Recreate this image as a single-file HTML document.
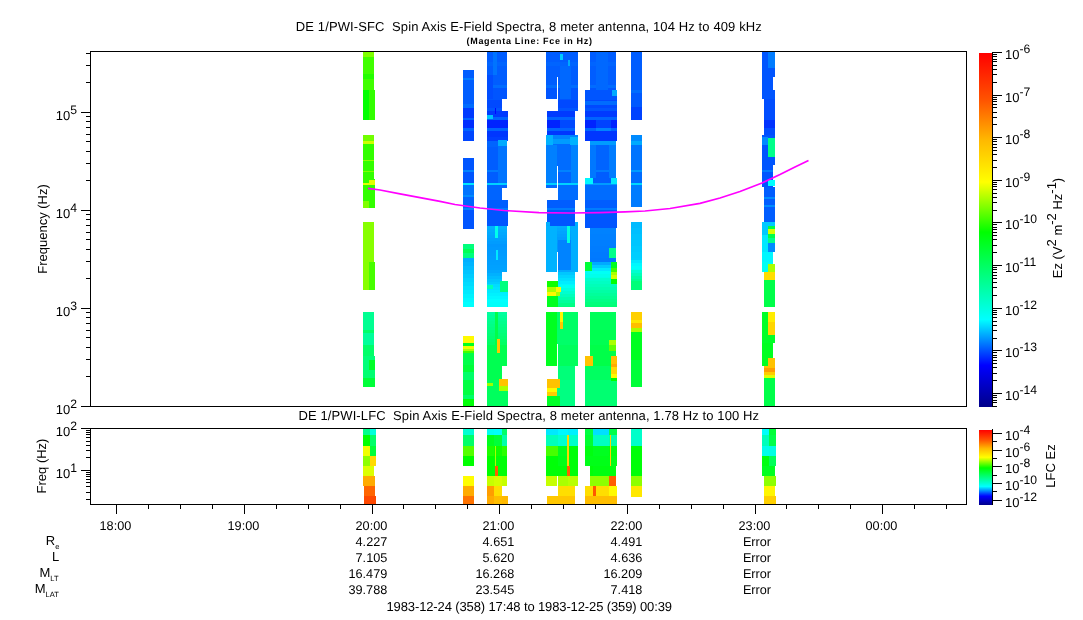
<!DOCTYPE html>
<html><head><meta charset="utf-8"><title>DE 1/PWI Spin Axis E-Field Spectra</title>
<style>
html,body{margin:0;padding:0;background:#fff;}
body{width:1083px;height:620px;overflow:hidden;font-family:"Liberation Sans",Arial,sans-serif;}
svg{display:block}
svg rect{shape-rendering:crispEdges}
svg text{text-rendering:geometricPrecision}
</style></head><body>
<svg width="1083" height="620" viewBox="0 0 1083 620">
<rect x="0" y="0" width="1083" height="620" fill="#fff"/>
<g id="sfc">
<rect x="363" y="52" width="11" height="5" fill="#80ff00"/>
<rect x="363" y="57" width="11" height="17" fill="#40ff00"/>
<rect x="363" y="74" width="11" height="5" fill="#23ff00"/>
<rect x="363" y="79" width="11" height="11" fill="#40ff00"/>
<rect x="363" y="90" width="12" height="30" fill="#32ff00"/>
<rect x="363" y="135" width="11" height="6" fill="#71ff00"/>
<rect x="363" y="141" width="11" height="3" fill="#cdff00"/>
<rect x="363" y="144" width="11" height="16" fill="#32ff00"/>
<rect x="363" y="160" width="11" height="1" fill="#8eff00"/>
<rect x="363" y="161" width="11" height="10" fill="#32ff00"/>
<rect x="363" y="171" width="11" height="1" fill="#80ff00"/>
<rect x="363" y="172" width="11" height="7" fill="#32ff00"/>
<rect x="363" y="179" width="12" height="4" fill="#32ff00"/>
<rect x="363" y="183" width="12" height="2" fill="#e3ff00"/>
<rect x="363" y="185" width="12" height="23" fill="#32ff00"/>
<rect x="363" y="222" width="11" height="40" fill="#87ff00"/>
<rect x="363" y="262" width="12" height="28" fill="#87ff00"/>
<rect x="363" y="312" width="11" height="18" fill="#00ff92"/>
<rect x="363" y="330" width="11" height="3" fill="#00ff69"/>
<rect x="363" y="333" width="11" height="12" fill="#00ff9a"/>
<rect x="363" y="345" width="11" height="11" fill="#00ff69"/>
<rect x="363" y="356" width="12" height="14" fill="#00ff79"/>
<rect x="363" y="370" width="12" height="8" fill="#00ff71"/>
<rect x="363" y="378" width="12" height="9" fill="#00ff39"/>
<rect x="363" y="90" width="6" height="30" fill="#00ff00"/>
<rect x="363" y="201" width="6" height="7" fill="#80ff00"/>
<rect x="369" y="262" width="6" height="28" fill="#47ff00"/>
<rect x="369" y="360" width="6" height="10" fill="#00ff28"/>
<rect x="369" y="180" width="6" height="5" fill="#e3ff00"/>
<rect x="463" y="70" width="11" height="8" fill="#005dff"/>
<rect x="463" y="78" width="11" height="2" fill="#007cff"/>
<rect x="463" y="80" width="11" height="24" fill="#005dff"/>
<rect x="463" y="104" width="11" height="4" fill="#006cff"/>
<rect x="463" y="108" width="11" height="10" fill="#003aff"/>
<rect x="463" y="118" width="11" height="2" fill="#0064ff"/>
<rect x="463" y="120" width="11" height="8" fill="#002eff"/>
<rect x="463" y="128" width="11" height="3" fill="#0064ff"/>
<rect x="463" y="131" width="11" height="10" fill="#0046ff"/>
<rect x="463" y="158" width="11" height="12" fill="#0055ff"/>
<rect x="463" y="170" width="11" height="2" fill="#0083ff"/>
<rect x="463" y="172" width="11" height="11" fill="#0055ff"/>
<rect x="463" y="183" width="11" height="2" fill="#00e8ff"/>
<rect x="463" y="185" width="11" height="10" fill="#0074ff"/>
<rect x="463" y="195" width="11" height="2" fill="#008bff"/>
<rect x="463" y="197" width="11" height="11" fill="#0064ff"/>
<rect x="463" y="208" width="11" height="2" fill="#0083ff"/>
<rect x="463" y="210" width="11" height="19" fill="#0055ff"/>
<rect x="463" y="244" width="11" height="5" fill="#00ff7d"/>
<rect x="463" y="249" width="11" height="4" fill="#00ff55"/>
<rect x="463" y="253" width="11" height="5" fill="#00ff7d"/>
<rect x="463" y="258" width="11" height="4" fill="#00aeff"/>
<rect x="463" y="262" width="11" height="4" fill="#00b5ff"/>
<rect x="463" y="266" width="11" height="4" fill="#00bdff"/>
<rect x="463" y="270" width="11" height="4" fill="#00c4ff"/>
<rect x="463" y="274" width="11" height="4" fill="#00ccff"/>
<rect x="463" y="278" width="11" height="4" fill="#00d4ff"/>
<rect x="463" y="282" width="11" height="4" fill="#00dbff"/>
<rect x="463" y="286" width="11" height="4" fill="#00e3ff"/>
<rect x="463" y="290" width="11" height="4" fill="#00eaff"/>
<rect x="463" y="294" width="11" height="4" fill="#00f2ff"/>
<rect x="463" y="298" width="11" height="4" fill="#00f9ff"/>
<rect x="463" y="302" width="11" height="4" fill="#00fffe"/>
<rect x="463" y="306" width="11" height="1" fill="#00fffb"/>
<rect x="463" y="336" width="11" height="7" fill="#fffa00"/>
<rect x="463" y="343" width="11" height="3" fill="#00ff20"/>
<rect x="463" y="346" width="11" height="3" fill="#f1ff00"/>
<rect x="463" y="349" width="11" height="2" fill="#aaff00"/>
<rect x="463" y="351" width="11" height="2" fill="#40ff00"/>
<rect x="463" y="353" width="11" height="12" fill="#00ff49"/>
<rect x="463" y="365" width="11" height="7" fill="#00ff39"/>
<rect x="463" y="372" width="11" height="8" fill="#00ff69"/>
<rect x="463" y="380" width="11" height="15" fill="#00ff41"/>
<rect x="463" y="395" width="11" height="4" fill="#00ff69"/>
<rect x="463" y="399" width="11" height="7" fill="#00ff08"/>
<rect x="487" y="52" width="20" height="10" fill="#005dff"/>
<rect x="487" y="62" width="20" height="4" fill="#0064ff"/>
<rect x="487" y="66" width="20" height="19" fill="#005dff"/>
<rect x="487" y="85" width="20" height="3" fill="#006cff"/>
<rect x="487" y="88" width="20" height="11" fill="#0055ff"/>
<rect x="487" y="99" width="15" height="1" fill="#0055ff"/>
<rect x="487" y="100" width="15" height="8" fill="#0049ff"/>
<rect x="487" y="108" width="15" height="3" fill="#0055ff"/>
<rect x="487" y="111" width="21" height="6" fill="#003aff"/>
<rect x="487" y="117" width="21" height="3" fill="#0064ff"/>
<rect x="487" y="120" width="21" height="8" fill="#0023ff"/>
<rect x="487" y="128" width="21" height="3" fill="#0064ff"/>
<rect x="487" y="131" width="21" height="6" fill="#0036ff"/>
<rect x="487" y="137" width="21" height="4" fill="#003eff"/>
<rect x="487" y="141" width="20" height="6" fill="#0064ff"/>
<rect x="487" y="147" width="20" height="23" fill="#005dff"/>
<rect x="487" y="170" width="20" height="2" fill="#007cff"/>
<rect x="487" y="172" width="20" height="11" fill="#005dff"/>
<rect x="487" y="183" width="20" height="2" fill="#00d1ff"/>
<rect x="487" y="185" width="20" height="3" fill="#0064ff"/>
<rect x="487" y="188" width="15" height="12" fill="#0064ff"/>
<rect x="487" y="200" width="21" height="8" fill="#005dff"/>
<rect x="487" y="208" width="21" height="2" fill="#007cff"/>
<rect x="487" y="210" width="21" height="16" fill="#0055ff"/>
<rect x="487" y="226" width="20" height="3" fill="#00b0ff"/>
<rect x="487" y="229" width="20" height="3" fill="#00acff"/>
<rect x="487" y="232" width="20" height="3" fill="#00a8ff"/>
<rect x="487" y="235" width="20" height="3" fill="#00a4ff"/>
<rect x="487" y="238" width="20" height="3" fill="#00a0ff"/>
<rect x="487" y="241" width="20" height="3" fill="#009cff"/>
<rect x="487" y="244" width="20" height="3" fill="#0097ff"/>
<rect x="487" y="247" width="20" height="3" fill="#0099ff"/>
<rect x="487" y="250" width="20" height="3" fill="#009aff"/>
<rect x="487" y="253" width="20" height="3" fill="#009bff"/>
<rect x="487" y="256" width="20" height="3" fill="#009dff"/>
<rect x="487" y="259" width="20" height="3" fill="#009eff"/>
<rect x="487" y="262" width="20" height="3" fill="#009fff"/>
<rect x="487" y="265" width="20" height="3" fill="#00a1ff"/>
<rect x="487" y="268" width="20" height="2" fill="#00a2ff"/>
<rect x="487" y="270" width="20" height="2" fill="#00a7ff"/>
<rect x="487" y="272" width="15" height="1" fill="#00a7ff"/>
<rect x="487" y="273" width="15" height="3" fill="#00b1ff"/>
<rect x="487" y="276" width="15" height="3" fill="#00bbff"/>
<rect x="487" y="279" width="15" height="2" fill="#00c5ff"/>
<rect x="487" y="281" width="21" height="1" fill="#00c5ff"/>
<rect x="487" y="282" width="21" height="2" fill="#00cdff"/>
<rect x="487" y="284" width="21" height="3" fill="#00dcff"/>
<rect x="487" y="287" width="21" height="3" fill="#00e3ff"/>
<rect x="487" y="290" width="21" height="3" fill="#00eaff"/>
<rect x="487" y="293" width="21" height="3" fill="#00f1ff"/>
<rect x="487" y="296" width="21" height="3" fill="#00f8ff"/>
<rect x="487" y="299" width="21" height="3" fill="#00ffff"/>
<rect x="487" y="302" width="21" height="3" fill="#00fffb"/>
<rect x="487" y="305" width="21" height="2" fill="#00fff8"/>
<rect x="487" y="312" width="20" height="3" fill="#00ff9f"/>
<rect x="487" y="315" width="20" height="3" fill="#00ff99"/>
<rect x="487" y="318" width="20" height="3" fill="#00ff93"/>
<rect x="487" y="321" width="20" height="3" fill="#00ff8d"/>
<rect x="487" y="324" width="20" height="3" fill="#00ff87"/>
<rect x="487" y="327" width="20" height="3" fill="#00ff82"/>
<rect x="487" y="330" width="20" height="3" fill="#00ff7c"/>
<rect x="487" y="333" width="20" height="3" fill="#00ff76"/>
<rect x="487" y="336" width="20" height="3" fill="#00ff70"/>
<rect x="487" y="339" width="20" height="3" fill="#00ff6a"/>
<rect x="487" y="342" width="20" height="3" fill="#00ff64"/>
<rect x="487" y="345" width="20" height="21" fill="#00ff51"/>
<rect x="487" y="366" width="15" height="13" fill="#00ff51"/>
<rect x="487" y="379" width="21" height="1" fill="#00ff51"/>
<rect x="487" y="380" width="21" height="26" fill="#00ff5d"/>
<rect x="498" y="146" width="9" height="37" fill="#0074ff"/>
<rect x="498" y="140" width="9" height="6" fill="#00aaff"/>
<rect x="493" y="52" width="4" height="23" fill="#0074ff"/>
<rect x="487" y="75" width="6" height="24" fill="#004dff"/>
<rect x="487" y="115" width="6" height="4" fill="#00c1ff"/>
<rect x="495" y="108" width="1" height="6" fill="#0008ff"/>
<rect x="495" y="226" width="3" height="12" fill="#00ffeb"/>
<rect x="496" y="250" width="2" height="10" fill="#00e8ff"/>
<rect x="487" y="285" width="6" height="4" fill="#00ffba"/>
<rect x="500" y="281" width="8" height="11" fill="#00ff7d"/>
<rect x="495" y="312" width="3" height="33" fill="#00ff49"/>
<rect x="497" y="339" width="3" height="14" fill="#ffc700"/>
<rect x="499" y="379" width="9" height="7" fill="#ffc200"/>
<rect x="499" y="386" width="9" height="5" fill="#aaff00"/>
<rect x="487" y="383" width="6" height="3" fill="#9cff00"/>
<rect x="546" y="52" width="32" height="10" fill="#005dff"/>
<rect x="546" y="62" width="32" height="4" fill="#0064ff"/>
<rect x="546" y="66" width="32" height="19" fill="#005dff"/>
<rect x="546" y="85" width="32" height="3" fill="#006cff"/>
<rect x="546" y="88" width="32" height="11" fill="#0055ff"/>
<rect x="558" y="99" width="20" height="1" fill="#0055ff"/>
<rect x="558" y="100" width="20" height="8" fill="#0049ff"/>
<rect x="558" y="108" width="20" height="3" fill="#0055ff"/>
<rect x="547" y="111" width="28" height="6" fill="#003aff"/>
<rect x="547" y="117" width="28" height="3" fill="#0064ff"/>
<rect x="547" y="120" width="28" height="8" fill="#0023ff"/>
<rect x="547" y="128" width="28" height="3" fill="#0064ff"/>
<rect x="547" y="131" width="28" height="4" fill="#0036ff"/>
<rect x="546" y="135" width="32" height="4" fill="#0083ff"/>
<rect x="546" y="139" width="32" height="5" fill="#009bff"/>
<rect x="546" y="144" width="32" height="26" fill="#006cff"/>
<rect x="546" y="170" width="32" height="2" fill="#0083ff"/>
<rect x="546" y="172" width="32" height="11" fill="#0064ff"/>
<rect x="546" y="183" width="32" height="2" fill="#00d1ff"/>
<rect x="546" y="185" width="32" height="3" fill="#006cff"/>
<rect x="558" y="188" width="20" height="12" fill="#006cff"/>
<rect x="547" y="200" width="28" height="8" fill="#005dff"/>
<rect x="547" y="208" width="28" height="2" fill="#007cff"/>
<rect x="547" y="210" width="28" height="12" fill="#0055ff"/>
<rect x="546" y="222" width="32" height="3" fill="#00b0ff"/>
<rect x="546" y="225" width="32" height="3" fill="#00acff"/>
<rect x="546" y="228" width="32" height="3" fill="#00a8ff"/>
<rect x="546" y="231" width="32" height="3" fill="#00a4ff"/>
<rect x="546" y="234" width="32" height="3" fill="#00a0ff"/>
<rect x="546" y="237" width="32" height="3" fill="#009cff"/>
<rect x="546" y="240" width="32" height="3" fill="#0099ff"/>
<rect x="546" y="243" width="32" height="3" fill="#0095ff"/>
<rect x="546" y="246" width="32" height="3" fill="#0094ff"/>
<rect x="546" y="249" width="32" height="3" fill="#0097ff"/>
<rect x="546" y="252" width="32" height="3" fill="#009aff"/>
<rect x="546" y="255" width="32" height="3" fill="#009cff"/>
<rect x="546" y="258" width="32" height="3" fill="#009fff"/>
<rect x="546" y="261" width="32" height="3" fill="#00a2ff"/>
<rect x="546" y="264" width="32" height="3" fill="#00a4ff"/>
<rect x="546" y="267" width="32" height="3" fill="#00a7ff"/>
<rect x="546" y="270" width="32" height="2" fill="#00a9ff"/>
<rect x="558" y="272" width="17" height="3" fill="#00c7ff"/>
<rect x="558" y="275" width="17" height="3" fill="#00d4ff"/>
<rect x="558" y="278" width="17" height="3" fill="#00e0ff"/>
<rect x="547" y="281" width="28" height="3" fill="#00edff"/>
<rect x="547" y="284" width="28" height="1" fill="#00f5ff"/>
<rect x="547" y="285" width="28" height="3" fill="#00fff2"/>
<rect x="547" y="288" width="28" height="3" fill="#00ffe0"/>
<rect x="547" y="291" width="28" height="3" fill="#00ffcf"/>
<rect x="547" y="294" width="28" height="3" fill="#00ffbd"/>
<rect x="547" y="297" width="28" height="3" fill="#00ffab"/>
<rect x="547" y="300" width="28" height="3" fill="#00ff9a"/>
<rect x="547" y="303" width="28" height="3" fill="#00ff88"/>
<rect x="547" y="306" width="28" height="1" fill="#00ff7c"/>
<rect x="546" y="312" width="32" height="18" fill="#00ff65"/>
<rect x="546" y="330" width="32" height="15" fill="#00ff69"/>
<rect x="546" y="345" width="32" height="21" fill="#00ff5d"/>
<rect x="558" y="366" width="17" height="13" fill="#00ff79"/>
<rect x="547" y="379" width="28" height="1" fill="#00ff79"/>
<rect x="547" y="380" width="28" height="26" fill="#00ff82"/>
<rect x="557" y="77" width="1" height="22" fill="#fff"/>
<rect x="557" y="166" width="1" height="22" fill="#fff"/>
<rect x="557" y="252" width="1" height="20" fill="#fff"/>
<rect x="557" y="344" width="1" height="22" fill="#fff"/>
<rect x="546" y="145" width="11" height="38" fill="#0080ff"/>
<rect x="571" y="145" width="7" height="38" fill="#0083ff"/>
<rect x="560" y="66" width="11" height="33" fill="#0068ff"/>
<rect x="560" y="120" width="15" height="8" fill="#0049ff"/>
<rect x="546" y="135" width="7" height="10" fill="#00b2ff"/>
<rect x="570" y="137" width="8" height="8" fill="#00b2ff"/>
<rect x="550" y="222" width="25" height="3.5" fill="#0055ff"/>
<rect x="558" y="240" width="14" height="30" fill="#0083ff"/>
<rect x="560" y="54" width="3" height="6" fill="#00c9ff"/>
<rect x="568" y="60" width="2" height="6" fill="#00aaff"/>
<rect x="546" y="312" width="11" height="54" fill="#00ff20"/>
<rect x="546" y="226" width="11" height="46" fill="#00b2ff"/>
<rect x="571" y="226" width="7" height="46" fill="#00aeff"/>
<rect x="567" y="226" width="3" height="17" fill="#00ffe3"/>
<rect x="547" y="281" width="11" height="6" fill="#0eff00"/>
<rect x="547" y="287" width="9" height="5" fill="#aaff00"/>
<rect x="556" y="287" width="5" height="5" fill="#fff800"/>
<rect x="547" y="292" width="9" height="4" fill="#fff800"/>
<rect x="556" y="292" width="4" height="4" fill="#aaff00"/>
<rect x="547" y="296" width="11" height="11" fill="#00ff20"/>
<rect x="560" y="312" width="3" height="10" fill="#fff600"/>
<rect x="560" y="322" width="3" height="7" fill="#ffc700"/>
<rect x="547" y="379" width="13" height="9" fill="#ffc200"/>
<rect x="547" y="388" width="10" height="4" fill="#fffa00"/>
<rect x="547" y="392" width="10" height="4" fill="#ffcc00"/>
<rect x="547" y="396" width="13" height="10" fill="#00ff28"/>
<rect x="590" y="52" width="26" height="10" fill="#005dff"/>
<rect x="590" y="62" width="26" height="4" fill="#0064ff"/>
<rect x="590" y="66" width="26" height="19" fill="#005dff"/>
<rect x="590" y="85" width="26" height="3" fill="#006cff"/>
<rect x="590" y="88" width="26" height="2" fill="#0055ff"/>
<rect x="585" y="90" width="32" height="10" fill="#0055ff"/>
<rect x="585" y="100" width="32" height="8" fill="#0049ff"/>
<rect x="585" y="108" width="32" height="3" fill="#0055ff"/>
<rect x="585" y="111" width="32" height="6" fill="#003aff"/>
<rect x="585" y="117" width="32" height="3" fill="#0064ff"/>
<rect x="585" y="120" width="32" height="8" fill="#0023ff"/>
<rect x="585" y="128" width="32" height="3" fill="#0064ff"/>
<rect x="585" y="131" width="32" height="10" fill="#0036ff"/>
<rect x="590" y="141" width="26" height="4" fill="#009bff"/>
<rect x="590" y="145" width="26" height="25" fill="#0064ff"/>
<rect x="590" y="170" width="26" height="2" fill="#007cff"/>
<rect x="590" y="172" width="26" height="6" fill="#005dff"/>
<rect x="585" y="178" width="32" height="5" fill="#005dff"/>
<rect x="585" y="183" width="32" height="2" fill="#009bff"/>
<rect x="585" y="185" width="32" height="15" fill="#006cff"/>
<rect x="585" y="200" width="32" height="8" fill="#005dff"/>
<rect x="585" y="208" width="32" height="2" fill="#007cff"/>
<rect x="585" y="210" width="32" height="18" fill="#0055ff"/>
<rect x="590" y="228" width="26" height="6" fill="#0082ff"/>
<rect x="590" y="234" width="26" height="6" fill="#0080ff"/>
<rect x="590" y="240" width="26" height="6" fill="#007eff"/>
<rect x="590" y="246" width="26" height="6" fill="#007cff"/>
<rect x="590" y="252" width="26" height="6" fill="#007aff"/>
<rect x="590" y="258" width="26" height="4" fill="#0078ff"/>
<rect x="585" y="262" width="32" height="3" fill="#00aaff"/>
<rect x="585" y="265" width="32" height="3" fill="#00c9ff"/>
<rect x="585" y="268" width="32" height="3" fill="#00e8ff"/>
<rect x="585" y="271" width="32" height="3" fill="#00fff6"/>
<rect x="585" y="274" width="32" height="3" fill="#00ffeb"/>
<rect x="585" y="277" width="32" height="1" fill="#00ffe4"/>
<rect x="585" y="278" width="32" height="3" fill="#00ffcd"/>
<rect x="585" y="281" width="32" height="3" fill="#00ffc3"/>
<rect x="585" y="284" width="32" height="3" fill="#00ffb9"/>
<rect x="585" y="287" width="32" height="3" fill="#00ffaf"/>
<rect x="585" y="290" width="32" height="3" fill="#00ffa5"/>
<rect x="585" y="293" width="32" height="3" fill="#00ff9b"/>
<rect x="585" y="296" width="32" height="3" fill="#00ff91"/>
<rect x="585" y="299" width="32" height="3" fill="#00ff87"/>
<rect x="585" y="302" width="32" height="3" fill="#00ff7d"/>
<rect x="585" y="305" width="32" height="2" fill="#00ff75"/>
<rect x="590" y="312" width="26" height="18" fill="#00ff59"/>
<rect x="590" y="330" width="26" height="15" fill="#00ff51"/>
<rect x="590" y="345" width="26" height="11" fill="#00ff49"/>
<rect x="585" y="356" width="32" height="10" fill="#00ff49"/>
<rect x="585" y="366" width="32" height="14" fill="#00ff61"/>
<rect x="585" y="380" width="32" height="26" fill="#00ff71"/>
<rect x="590" y="145" width="6" height="33" fill="#0078ff"/>
<rect x="609" y="145" width="7" height="33" fill="#007cff"/>
<rect x="596" y="52" width="12" height="38" fill="#0068ff"/>
<rect x="596" y="120" width="15" height="8" fill="#0042ff"/>
<rect x="596" y="128" width="15" height="3" fill="#0083ff"/>
<rect x="585" y="101" width="32" height="4" fill="#006cff"/>
<rect x="612" y="90" width="5" height="6" fill="#00aaff"/>
<rect x="585" y="178" width="8" height="6" fill="#00f7ff"/>
<rect x="611" y="178" width="6" height="6" fill="#00e8ff"/>
<rect x="585" y="262" width="7" height="9" fill="#00ff39"/>
<rect x="611" y="262" width="6" height="6" fill="#00ff20"/>
<rect x="611" y="268" width="6" height="4" fill="#40ff00"/>
<rect x="611" y="272" width="6" height="3" fill="#aaff00"/>
<rect x="611" y="275" width="6" height="4" fill="#d4ff00"/>
<rect x="611" y="279" width="6" height="5" fill="#00ff04"/>
<rect x="609" y="248" width="7" height="10" fill="#00ff8a"/>
<rect x="609" y="340" width="7" height="5" fill="#aaff00"/>
<rect x="609" y="345" width="7" height="6" fill="#63ff00"/>
<rect x="585" y="356" width="8" height="10" fill="#ffc200"/>
<rect x="611" y="356" width="6" height="8" fill="#ffc200"/>
<rect x="611" y="364" width="6" height="3" fill="#ffab00"/>
<rect x="611" y="367" width="6" height="7" fill="#ffda00"/>
<rect x="611" y="374" width="6" height="4" fill="#fffa00"/>
<rect x="611" y="378" width="6" height="3" fill="#00ff00"/>
<rect x="631" y="52" width="11" height="38" fill="#005dff"/>
<rect x="631" y="90" width="11" height="3" fill="#006cff"/>
<rect x="631" y="93" width="11" height="14" fill="#0059ff"/>
<rect x="631" y="107" width="11" height="13" fill="#0042ff"/>
<rect x="631" y="135" width="11" height="6" fill="#008bff"/>
<rect x="631" y="141" width="11" height="4" fill="#00aaff"/>
<rect x="631" y="145" width="11" height="25" fill="#0074ff"/>
<rect x="631" y="170" width="11" height="2" fill="#009bff"/>
<rect x="631" y="172" width="11" height="11" fill="#006cff"/>
<rect x="631" y="183" width="11" height="2" fill="#00d8ff"/>
<rect x="631" y="185" width="11" height="22" fill="#007cff"/>
<rect x="631" y="222" width="11" height="6" fill="#00bbff"/>
<rect x="631" y="228" width="11" height="6" fill="#00bfff"/>
<rect x="631" y="234" width="11" height="6" fill="#00c3ff"/>
<rect x="631" y="240" width="11" height="6" fill="#00c6ff"/>
<rect x="631" y="246" width="11" height="6" fill="#00caff"/>
<rect x="631" y="252" width="11" height="6" fill="#00ceff"/>
<rect x="631" y="258" width="11" height="2" fill="#00d0ff"/>
<rect x="631" y="260" width="11" height="3" fill="#00e8ff"/>
<rect x="631" y="263" width="11" height="3" fill="#00f8ff"/>
<rect x="631" y="266" width="11" height="3" fill="#00fffa"/>
<rect x="631" y="269" width="11" height="1" fill="#00fff4"/>
<rect x="631" y="270" width="11" height="3" fill="#00ffd0"/>
<rect x="631" y="273" width="11" height="3" fill="#00ffb9"/>
<rect x="631" y="276" width="11" height="3" fill="#00ffa3"/>
<rect x="631" y="279" width="11" height="2" fill="#00ff91"/>
<rect x="631" y="281" width="11" height="9" fill="#00ff79"/>
<rect x="631" y="312" width="11" height="8" fill="#ffd000"/>
<rect x="631" y="320" width="11" height="3" fill="#ffe800"/>
<rect x="631" y="323" width="11" height="5" fill="#ffbe00"/>
<rect x="631" y="328" width="11" height="4" fill="#aaff00"/>
<rect x="631" y="332" width="11" height="28" fill="#00ff20"/>
<rect x="631" y="360" width="11" height="27" fill="#00ff39"/>
<rect x="762" y="52" width="13" height="25" fill="#0055ff"/>
<rect x="762" y="77" width="11" height="13" fill="#0055ff"/>
<rect x="762" y="90" width="13" height="9" fill="#0055ff"/>
<rect x="764" y="99" width="11" height="21" fill="#004dff"/>
<rect x="764" y="120" width="11" height="8" fill="#0032ff"/>
<rect x="764" y="128" width="11" height="7" fill="#004dff"/>
<rect x="762" y="135" width="13" height="30" fill="#0055ff"/>
<rect x="762" y="165" width="11" height="5" fill="#0055ff"/>
<rect x="762" y="170" width="11" height="2" fill="#007cff"/>
<rect x="762" y="172" width="11" height="15" fill="#0055ff"/>
<rect x="764" y="187" width="11" height="10" fill="#005dff"/>
<rect x="764" y="197" width="11" height="2" fill="#008bff"/>
<rect x="764" y="199" width="11" height="6" fill="#005dff"/>
<rect x="764" y="205" width="11" height="2" fill="#008bff"/>
<rect x="764" y="207" width="11" height="15" fill="#005dff"/>
<rect x="762" y="222" width="13" height="13" fill="#00c9ff"/>
<rect x="762" y="235" width="13" height="17" fill="#00e8ff"/>
<rect x="762" y="252" width="11" height="10" fill="#00f7ff"/>
<rect x="762" y="262" width="11" height="10" fill="#00fff3"/>
<rect x="764" y="272" width="11" height="8" fill="#ffde00"/>
<rect x="764" y="280" width="11" height="27" fill="#00ff49"/>
<rect x="762" y="312" width="13" height="31" fill="#00ff28"/>
<rect x="762" y="343" width="11" height="23" fill="#00ff20"/>
<rect x="764" y="366" width="11" height="2" fill="#ffc200"/>
<rect x="764" y="368" width="11" height="4" fill="#ff9d00"/>
<rect x="764" y="372" width="11" height="3" fill="#ffcc00"/>
<rect x="764" y="375" width="11" height="3" fill="#e3ff00"/>
<rect x="764" y="378" width="11" height="28" fill="#00ff49"/>
<rect x="768" y="52" width="7" height="16" fill="#007cff"/>
<rect x="768" y="138" width="7" height="19" fill="#00ff8a"/>
<rect x="762" y="137" width="6" height="8" fill="#008bff"/>
<rect x="768" y="180" width="7" height="6" fill="#00ffff"/>
<rect x="768" y="226" width="7" height="3" fill="#00ff49"/>
<rect x="768" y="229" width="7" height="5" fill="#d4ff00"/>
<rect x="768" y="234" width="7" height="4" fill="#00ff49"/>
<rect x="768" y="238" width="7" height="5" fill="#00ff8a"/>
<rect x="768" y="243" width="7" height="9" fill="#008bff"/>
<rect x="768" y="264" width="7" height="8" fill="#aaff00"/>
<rect x="768" y="312" width="7" height="10" fill="#ffec00"/>
<rect x="768" y="322" width="7" height="13" fill="#ffd500"/>
<rect x="768" y="358" width="7" height="8" fill="#ffc200"/>
</g>
<polyline fill="none" stroke="#ff00ff" stroke-width="1.7" points="368,188.3 380,190 400,193.8 420,197.6 440,201.4 455,204.5 480,208 504,210.5 539,212.6 570,213 600,212.7 625,211.9 645,211 670,208.5 700,203.3 720,198 740,191.5 762,183 780,174.5 795,167 808.5,160.5"/>
<g id="lfc">
<rect x="363" y="429" width="7" height="6" fill="#00ff8a"/>
<rect x="363" y="435" width="7" height="11" fill="#00ff00"/>
<rect x="363" y="446" width="7" height="10" fill="#f1ff00"/>
<rect x="363" y="456" width="7" height="10" fill="#8eff00"/>
<rect x="370" y="429" width="6" height="6" fill="#00ffdb"/>
<rect x="370" y="435" width="6" height="11" fill="#00ff69"/>
<rect x="370" y="446" width="6" height="10" fill="#00ff39"/>
<rect x="370" y="456" width="6" height="10" fill="#ffda00"/>
<rect x="363" y="466" width="11" height="10" fill="#dcff00"/>
<rect x="363" y="476" width="12" height="10" fill="#ffab00"/>
<rect x="364" y="486" width="11" height="10" fill="#ff6500"/>
<rect x="364" y="496" width="12" height="9" fill="#ff4800"/>
<rect x="463" y="429" width="11" height="6" fill="#00ffd2"/>
<rect x="463" y="435" width="11" height="11" fill="#00ff69"/>
<rect x="463" y="446" width="11" height="10" fill="#55ff00"/>
<rect x="463" y="456" width="11" height="10" fill="#00ff00"/>
<rect x="463" y="476" width="11" height="10" fill="#fffd00"/>
<rect x="463" y="486" width="11" height="10" fill="#ffab00"/>
<rect x="463" y="496" width="11" height="9" fill="#ff7300"/>
<rect x="487" y="429" width="7" height="6" fill="#00fff3"/>
<rect x="487" y="435" width="7" height="11" fill="#00ff20"/>
<rect x="487" y="446" width="7" height="10" fill="#1cff00"/>
<rect x="487" y="456" width="7" height="10" fill="#00ff00"/>
<rect x="487" y="466" width="7" height="10" fill="#00ff00"/>
<rect x="487" y="476" width="7" height="10" fill="#c6ff00"/>
<rect x="487" y="486" width="7" height="10" fill="#ff9d00"/>
<rect x="487" y="496" width="7" height="9" fill="#ffab00"/>
<rect x="494" y="429" width="8" height="6" fill="#00fffb"/>
<rect x="494" y="435" width="8" height="11" fill="#00ff39"/>
<rect x="494" y="446" width="8" height="10" fill="#0eff00"/>
<rect x="494" y="456" width="8" height="10" fill="#00ff08"/>
<rect x="494" y="466" width="8" height="10" fill="#00ff08"/>
<rect x="494" y="476" width="8" height="10" fill="#d4ff00"/>
<rect x="494" y="486" width="8" height="10" fill="#ffde00"/>
<rect x="494" y="496" width="8" height="9" fill="#ffbe00"/>
<rect x="502" y="429" width="5" height="6" fill="#00ff69"/>
<rect x="502" y="435" width="5" height="11" fill="#00ffaa"/>
<rect x="502" y="446" width="5" height="10" fill="#2aff00"/>
<rect x="502" y="456" width="5" height="10" fill="#00ff08"/>
<rect x="502" y="466" width="5" height="10" fill="#00ff08"/>
<rect x="502" y="476" width="5" height="10" fill="#c6ff00"/>
<rect x="502" y="496" width="5" height="9" fill="#ffb900"/>
<rect x="507" y="496" width="1" height="9" fill="#ffb900"/>
<rect x="495" y="466" width="3" height="10" fill="#ff5e00"/>
<rect x="495" y="446" width="1" height="20" fill="#aaff00"/>
<rect x="546" y="429" width="12" height="6" fill="#00e8ff"/>
<rect x="546" y="435" width="12" height="11" fill="#00ffba"/>
<rect x="546" y="446" width="12" height="10" fill="#47ff00"/>
<rect x="546" y="456" width="12" height="10" fill="#00ff08"/>
<rect x="546" y="466" width="12" height="10" fill="#00ff08"/>
<rect x="546" y="476" width="11" height="10" fill="#c6ff00"/>
<rect x="558" y="429" width="10" height="6" fill="#00f7ff"/>
<rect x="558" y="435" width="10" height="11" fill="#00ffd2"/>
<rect x="558" y="446" width="10" height="10" fill="#00ff20"/>
<rect x="558" y="456" width="10" height="10" fill="#00ff18"/>
<rect x="558" y="466" width="10" height="10" fill="#00ff08"/>
<rect x="558" y="476" width="10" height="10" fill="#aaff00"/>
<rect x="558" y="486" width="10" height="10" fill="#ffde00"/>
<rect x="558" y="496" width="10" height="9" fill="#ffc700"/>
<rect x="568" y="429" width="10" height="6" fill="#00f0ff"/>
<rect x="568" y="435" width="10" height="11" fill="#00ffca"/>
<rect x="568" y="446" width="10" height="10" fill="#00ff08"/>
<rect x="568" y="456" width="10" height="10" fill="#00ff08"/>
<rect x="568" y="466" width="10" height="10" fill="#00ff08"/>
<rect x="568" y="476" width="10" height="10" fill="#b8ff00"/>
<rect x="568" y="486" width="10" height="10" fill="#ffde00"/>
<rect x="568" y="496" width="10" height="9" fill="#ffc700"/>
<rect x="575" y="486" width="3" height="19" fill="#fff"/>
<rect x="547" y="496" width="11" height="9" fill="#ffc700"/>
<rect x="567" y="435" width="2" height="31" fill="#ffd500"/>
<rect x="567" y="466" width="3" height="10" fill="#ff5e00"/>
<rect x="585" y="429" width="8" height="6" fill="#00ff41"/>
<rect x="585" y="435" width="8" height="11" fill="#00ff31"/>
<rect x="585" y="446" width="8" height="10" fill="#00ff10"/>
<rect x="585" y="456" width="8" height="10" fill="#00ff18"/>
<rect x="585" y="486" width="8" height="10" fill="#ffde00"/>
<rect x="585" y="496" width="8" height="9" fill="#ffbe00"/>
<rect x="593" y="429" width="16" height="6" fill="#00e0ff"/>
<rect x="593" y="435" width="16" height="11" fill="#00ffc2"/>
<rect x="593" y="446" width="16" height="10" fill="#00ff20"/>
<rect x="593" y="456" width="16" height="10" fill="#00ff18"/>
<rect x="593" y="466" width="16" height="10" fill="#00ff10"/>
<rect x="593" y="476" width="16" height="10" fill="#8eff00"/>
<rect x="593" y="486" width="16" height="10" fill="#ffde00"/>
<rect x="593" y="496" width="16" height="9" fill="#ffbe00"/>
<rect x="609" y="429" width="8" height="6" fill="#00ff49"/>
<rect x="609" y="435" width="8" height="11" fill="#00ffaa"/>
<rect x="609" y="446" width="8" height="10" fill="#00ff10"/>
<rect x="609" y="456" width="8" height="10" fill="#00ff18"/>
<rect x="609" y="466" width="8" height="10" fill="#00ff10"/>
<rect x="609" y="476" width="8" height="10" fill="#8eff00"/>
<rect x="609" y="486" width="8" height="10" fill="#fffa00"/>
<rect x="609" y="496" width="8" height="9" fill="#ffbe00"/>
<rect x="590" y="466" width="3" height="20" fill="#00ff08"/>
<rect x="590" y="476" width="3" height="10" fill="#8eff00"/>
<rect x="616" y="466" width="1" height="20" fill="#fff"/>
<rect x="609.5" y="435" width="1.5" height="31" fill="#ffd000"/>
<rect x="609" y="476" width="7" height="10" fill="#ff5e00"/>
<rect x="593" y="486" width="3" height="10" fill="#ff5700"/>
<rect x="631" y="429" width="11" height="17" fill="#00ffca"/>
<rect x="631" y="446" width="11" height="30" fill="#00ff08"/>
<rect x="631" y="476" width="11" height="10" fill="#8eff00"/>
<rect x="631" y="486" width="11" height="11" fill="#ffe800"/>
<rect x="762" y="429" width="7" height="6" fill="#00fffb"/>
<rect x="762" y="435" width="7" height="11" fill="#00ffba"/>
<rect x="762" y="446" width="7" height="10" fill="#00ffeb"/>
<rect x="762" y="456" width="7" height="10" fill="#00ff10"/>
<rect x="762" y="466" width="7" height="10" fill="#00ff20"/>
<rect x="769" y="429" width="7" height="6" fill="#00ff39"/>
<rect x="769" y="435" width="7" height="11" fill="#00ff49"/>
<rect x="769" y="446" width="7" height="10" fill="#00ffe3"/>
<rect x="769" y="456" width="7" height="10" fill="#00ff59"/>
<rect x="769" y="466" width="7" height="10" fill="#00ff20"/>
<rect x="775" y="466" width="1" height="10" fill="#fff"/>
<rect x="764" y="476" width="12" height="10" fill="#8eff00"/>
<rect x="764" y="486" width="11" height="10" fill="#fff600"/>
<rect x="764" y="496" width="12" height="9" fill="#ffd000"/>
</g>
<g id="axes">
<rect x="90" y="51" width="1" height="356" fill="#000"/>
<rect x="90" y="51" width="877" height="1" fill="#000"/>
<rect x="966" y="51" width="1" height="356" fill="#000"/>
<rect x="90" y="406" width="877" height="1" fill="#000"/>
<rect x="90" y="428" width="1" height="77" fill="#000"/>
<rect x="90" y="428" width="877" height="1" fill="#000"/>
<rect x="966" y="428" width="1" height="77" fill="#000"/>
<rect x="90" y="504" width="877" height="1" fill="#000"/>
<rect x="81" y="406" width="9" height="1" fill="#000"/>
<rect x="86" y="376" width="4" height="1" fill="#000"/>
<rect x="86" y="359" width="4" height="1" fill="#000"/>
<rect x="86" y="347" width="4" height="1" fill="#000"/>
<rect x="86" y="337" width="4" height="1" fill="#000"/>
<rect x="86" y="330" width="4" height="1" fill="#000"/>
<rect x="86" y="323" width="4" height="1" fill="#000"/>
<rect x="86" y="317" width="4" height="1" fill="#000"/>
<rect x="86" y="312" width="4" height="1" fill="#000"/>
<rect x="81" y="308" width="9" height="1" fill="#000"/>
<rect x="86" y="278" width="4" height="1" fill="#000"/>
<rect x="86" y="261" width="4" height="1" fill="#000"/>
<rect x="86" y="249" width="4" height="1" fill="#000"/>
<rect x="86" y="239" width="4" height="1" fill="#000"/>
<rect x="86" y="232" width="4" height="1" fill="#000"/>
<rect x="86" y="225" width="4" height="1" fill="#000"/>
<rect x="86" y="219" width="4" height="1" fill="#000"/>
<rect x="86" y="214" width="4" height="1" fill="#000"/>
<rect x="81" y="210" width="9" height="1" fill="#000"/>
<rect x="86" y="180" width="4" height="1" fill="#000"/>
<rect x="86" y="163" width="4" height="1" fill="#000"/>
<rect x="86" y="151" width="4" height="1" fill="#000"/>
<rect x="86" y="141" width="4" height="1" fill="#000"/>
<rect x="86" y="134" width="4" height="1" fill="#000"/>
<rect x="86" y="127" width="4" height="1" fill="#000"/>
<rect x="86" y="121" width="4" height="1" fill="#000"/>
<rect x="86" y="116" width="4" height="1" fill="#000"/>
<rect x="81" y="112" width="9" height="1" fill="#000"/>
<rect x="86" y="82" width="4" height="1" fill="#000"/>
<rect x="86" y="65" width="4" height="1" fill="#000"/>
<rect x="86" y="53" width="4" height="1" fill="#000"/>
<rect x="86" y="499" width="4" height="1" fill="#000"/>
<rect x="86" y="492" width="4" height="1" fill="#000"/>
<rect x="86" y="486" width="4" height="1" fill="#000"/>
<rect x="86" y="482" width="4" height="1" fill="#000"/>
<rect x="86" y="479" width="4" height="1" fill="#000"/>
<rect x="86" y="476" width="4" height="1" fill="#000"/>
<rect x="86" y="474" width="4" height="1" fill="#000"/>
<rect x="86" y="472" width="4" height="1" fill="#000"/>
<rect x="81" y="470" width="9" height="1" fill="#000"/>
<rect x="86" y="457" width="4" height="1" fill="#000"/>
<rect x="86" y="450" width="4" height="1" fill="#000"/>
<rect x="86" y="445" width="4" height="1" fill="#000"/>
<rect x="86" y="441" width="4" height="1" fill="#000"/>
<rect x="86" y="437" width="4" height="1" fill="#000"/>
<rect x="86" y="434" width="4" height="1" fill="#000"/>
<rect x="86" y="432" width="4" height="1" fill="#000"/>
<rect x="86" y="430" width="4" height="1" fill="#000"/>
<rect x="81" y="428" width="9" height="1" fill="#000"/>
<rect x="116" y="504" width="1" height="10" fill="#000"/>
<rect x="148" y="504" width="1" height="5" fill="#000"/>
<rect x="180" y="504" width="1" height="5" fill="#000"/>
<rect x="212" y="504" width="1" height="5" fill="#000"/>
<rect x="244" y="504" width="1" height="10" fill="#000"/>
<rect x="276" y="504" width="1" height="5" fill="#000"/>
<rect x="308" y="504" width="1" height="5" fill="#000"/>
<rect x="340" y="504" width="1" height="5" fill="#000"/>
<rect x="372" y="504" width="1" height="10" fill="#000"/>
<rect x="403" y="504" width="1" height="5" fill="#000"/>
<rect x="435" y="504" width="1" height="5" fill="#000"/>
<rect x="467" y="504" width="1" height="5" fill="#000"/>
<rect x="499" y="504" width="1" height="10" fill="#000"/>
<rect x="531" y="504" width="1" height="5" fill="#000"/>
<rect x="563" y="504" width="1" height="5" fill="#000"/>
<rect x="595" y="504" width="1" height="5" fill="#000"/>
<rect x="627" y="504" width="1" height="10" fill="#000"/>
<rect x="659" y="504" width="1" height="5" fill="#000"/>
<rect x="691" y="504" width="1" height="5" fill="#000"/>
<rect x="723" y="504" width="1" height="5" fill="#000"/>
<rect x="755" y="504" width="1" height="10" fill="#000"/>
<rect x="786" y="504" width="1" height="5" fill="#000"/>
<rect x="818" y="504" width="1" height="5" fill="#000"/>
<rect x="850" y="504" width="1" height="5" fill="#000"/>
<rect x="882" y="504" width="1" height="10" fill="#000"/>
<rect x="914" y="504" width="1" height="5" fill="#000"/>
<rect x="946" y="504" width="1" height="5" fill="#000"/>
</g>
<defs>
<linearGradient id="cw" x1="0" y1="1" x2="0" y2="0">
<stop offset="0.0000" stop-color="#000089"/>
<stop offset="0.1176" stop-color="#0000ff"/>
<stop offset="0.2471" stop-color="#00ffff"/>
<stop offset="0.4941" stop-color="#00ff00"/>
<stop offset="0.6353" stop-color="#ffff00"/>
<stop offset="0.7529" stop-color="#ffb900"/>
<stop offset="0.8667" stop-color="#ff5400"/>
<stop offset="1.0000" stop-color="#ff0000"/>
</linearGradient></defs>
<rect x="979" y="53" width="13" height="354" fill="url(#cw)"/>
<rect x="992" y="52" width="1" height="355" fill="#000"/>
<rect x="992" y="406" width="5" height="1" fill="#000"/>
<rect x="992" y="402" width="5" height="1" fill="#000"/>
<rect x="992" y="400" width="5" height="1" fill="#000"/>
<rect x="992" y="397" width="5" height="1" fill="#000"/>
<rect x="992" y="395" width="5" height="1" fill="#000"/>
<rect x="992" y="393" width="10" height="1" fill="#000"/>
<rect x="992" y="380" width="5" height="1" fill="#000"/>
<rect x="992" y="373" width="5" height="1" fill="#000"/>
<rect x="992" y="367" width="5" height="1" fill="#000"/>
<rect x="992" y="363" width="5" height="1" fill="#000"/>
<rect x="992" y="360" width="5" height="1" fill="#000"/>
<rect x="992" y="357" width="5" height="1" fill="#000"/>
<rect x="992" y="355" width="5" height="1" fill="#000"/>
<rect x="992" y="352" width="5" height="1" fill="#000"/>
<rect x="992" y="350" width="10" height="1" fill="#000"/>
<rect x="992" y="338" width="5" height="1" fill="#000"/>
<rect x="992" y="330" width="5" height="1" fill="#000"/>
<rect x="992" y="325" width="5" height="1" fill="#000"/>
<rect x="992" y="321" width="5" height="1" fill="#000"/>
<rect x="992" y="317" width="5" height="1" fill="#000"/>
<rect x="992" y="314" width="5" height="1" fill="#000"/>
<rect x="992" y="312" width="5" height="1" fill="#000"/>
<rect x="992" y="310" width="5" height="1" fill="#000"/>
<rect x="992" y="308" width="10" height="1" fill="#000"/>
<rect x="992" y="295" width="5" height="1" fill="#000"/>
<rect x="992" y="287" width="5" height="1" fill="#000"/>
<rect x="992" y="282" width="5" height="1" fill="#000"/>
<rect x="992" y="278" width="5" height="1" fill="#000"/>
<rect x="992" y="275" width="5" height="1" fill="#000"/>
<rect x="992" y="272" width="5" height="1" fill="#000"/>
<rect x="992" y="269" width="5" height="1" fill="#000"/>
<rect x="992" y="267" width="5" height="1" fill="#000"/>
<rect x="992" y="265" width="10" height="1" fill="#000"/>
<rect x="992" y="252" width="5" height="1" fill="#000"/>
<rect x="992" y="245" width="5" height="1" fill="#000"/>
<rect x="992" y="239" width="5" height="1" fill="#000"/>
<rect x="992" y="235" width="5" height="1" fill="#000"/>
<rect x="992" y="232" width="5" height="1" fill="#000"/>
<rect x="992" y="229" width="5" height="1" fill="#000"/>
<rect x="992" y="227" width="5" height="1" fill="#000"/>
<rect x="992" y="224" width="5" height="1" fill="#000"/>
<rect x="992" y="222" width="10" height="1" fill="#000"/>
<rect x="992" y="210" width="5" height="1" fill="#000"/>
<rect x="992" y="202" width="5" height="1" fill="#000"/>
<rect x="992" y="197" width="5" height="1" fill="#000"/>
<rect x="992" y="193" width="5" height="1" fill="#000"/>
<rect x="992" y="189" width="5" height="1" fill="#000"/>
<rect x="992" y="186" width="5" height="1" fill="#000"/>
<rect x="992" y="184" width="5" height="1" fill="#000"/>
<rect x="992" y="182" width="5" height="1" fill="#000"/>
<rect x="992" y="180" width="10" height="1" fill="#000"/>
<rect x="992" y="167" width="5" height="1" fill="#000"/>
<rect x="992" y="160" width="5" height="1" fill="#000"/>
<rect x="992" y="154" width="5" height="1" fill="#000"/>
<rect x="992" y="150" width="5" height="1" fill="#000"/>
<rect x="992" y="147" width="5" height="1" fill="#000"/>
<rect x="992" y="144" width="5" height="1" fill="#000"/>
<rect x="992" y="141" width="5" height="1" fill="#000"/>
<rect x="992" y="139" width="5" height="1" fill="#000"/>
<rect x="992" y="137" width="10" height="1" fill="#000"/>
<rect x="992" y="124" width="5" height="1" fill="#000"/>
<rect x="992" y="117" width="5" height="1" fill="#000"/>
<rect x="992" y="112" width="5" height="1" fill="#000"/>
<rect x="992" y="107" width="5" height="1" fill="#000"/>
<rect x="992" y="104" width="5" height="1" fill="#000"/>
<rect x="992" y="101" width="5" height="1" fill="#000"/>
<rect x="992" y="99" width="5" height="1" fill="#000"/>
<rect x="992" y="97" width="5" height="1" fill="#000"/>
<rect x="992" y="95" width="10" height="1" fill="#000"/>
<rect x="992" y="82" width="5" height="1" fill="#000"/>
<rect x="992" y="74" width="5" height="1" fill="#000"/>
<rect x="992" y="69" width="5" height="1" fill="#000"/>
<rect x="992" y="65" width="5" height="1" fill="#000"/>
<rect x="992" y="61" width="5" height="1" fill="#000"/>
<rect x="992" y="59" width="5" height="1" fill="#000"/>
<rect x="992" y="56" width="5" height="1" fill="#000"/>
<rect x="992" y="54" width="5" height="1" fill="#000"/>
<rect x="992" y="52" width="10" height="1" fill="#000"/>
<rect x="979" y="430" width="13" height="75" fill="url(#cw)"/>
<rect x="992" y="429" width="1" height="76" fill="#000"/>
<rect x="992" y="500" width="10" height="1" fill="#000"/>
<rect x="992" y="491" width="5" height="1" fill="#000"/>
<rect x="992" y="483" width="10" height="1" fill="#000"/>
<rect x="992" y="475" width="5" height="1" fill="#000"/>
<rect x="992" y="466" width="10" height="1" fill="#000"/>
<rect x="992" y="458" width="5" height="1" fill="#000"/>
<rect x="992" y="450" width="10" height="1" fill="#000"/>
<rect x="992" y="441" width="5" height="1" fill="#000"/>
<rect x="992" y="433" width="10" height="1" fill="#000"/>
<g font-family="'Liberation Sans', Arial, sans-serif" fill="#000" opacity="0.999">
<text x="295.8" y="31" text-anchor="start" font-size="13" font-weight="normal"  textLength="466" lengthAdjust="spacing">DE 1/PWI-SFC&#160; Spin Axis E-Field Spectra, 8 meter antenna, 104 Hz to 409 kHz</text>
<text x="466.5" y="44" text-anchor="start" font-size="9" font-weight="bold"  textLength="125.5" lengthAdjust="spacing">(Magenta Line: Fce in Hz)</text>
<text x="298.5" y="419.8" text-anchor="start" font-size="13" font-weight="normal"  textLength="460.5" lengthAdjust="spacing">DE 1/PWI-LFC&#160; Spin Axis E-Field Spectra, 8 meter antenna, 1.78 Hz to 100 Hz</text>
<text x="386.5" y="611" text-anchor="start" font-size="13" font-weight="normal"  textLength="285.5" lengthAdjust="spacing">1983-12-24 (358) 17:48 to 1983-12-25 (359) 00:39</text>
<text x="77" y="120" text-anchor="end" font-size="13" font-weight="normal" >10<tspan dy="-6" font-size="12.2">5</tspan></text>
<text x="77" y="218" text-anchor="end" font-size="13" font-weight="normal" >10<tspan dy="-6" font-size="12.2">4</tspan></text>
<text x="77" y="316" text-anchor="end" font-size="13" font-weight="normal" >10<tspan dy="-6" font-size="12.2">3</tspan></text>
<text x="77" y="414" text-anchor="end" font-size="13" font-weight="normal" >10<tspan dy="-6" font-size="12.2">2</tspan></text>
<text x="77" y="436" text-anchor="end" font-size="13" font-weight="normal" >10<tspan dy="-6" font-size="12.2">2</tspan></text>
<text x="77" y="478" text-anchor="end" font-size="13" font-weight="normal" >10<tspan dy="-6" font-size="12.2">1</tspan></text>
<text x="1005" y="400" text-anchor="start" font-size="13" font-weight="normal" >10<tspan dy="-6" font-size="12.2">-14</tspan></text>
<text x="1005" y="357" text-anchor="start" font-size="13" font-weight="normal" >10<tspan dy="-6" font-size="12.2">-13</tspan></text>
<text x="1005" y="315" text-anchor="start" font-size="13" font-weight="normal" >10<tspan dy="-6" font-size="12.2">-12</tspan></text>
<text x="1005" y="272" text-anchor="start" font-size="13" font-weight="normal" >10<tspan dy="-6" font-size="12.2">-11</tspan></text>
<text x="1005" y="229" text-anchor="start" font-size="13" font-weight="normal" >10<tspan dy="-6" font-size="12.2">-10</tspan></text>
<text x="1005" y="187" text-anchor="start" font-size="13" font-weight="normal" >10<tspan dy="-6" font-size="12.2">-9</tspan></text>
<text x="1005" y="144" text-anchor="start" font-size="13" font-weight="normal" >10<tspan dy="-6" font-size="12.2">-8</tspan></text>
<text x="1005" y="102" text-anchor="start" font-size="13" font-weight="normal" >10<tspan dy="-6" font-size="12.2">-7</tspan></text>
<text x="1005" y="59" text-anchor="start" font-size="13" font-weight="normal" >10<tspan dy="-6" font-size="12.2">-6</tspan></text>
<text x="1005" y="507" text-anchor="start" font-size="13" font-weight="normal" >10<tspan dy="-6" font-size="12.2">-12</tspan></text>
<text x="1005" y="490" text-anchor="start" font-size="13" font-weight="normal" >10<tspan dy="-6" font-size="12.2">-10</tspan></text>
<text x="1005" y="473" text-anchor="start" font-size="13" font-weight="normal" >10<tspan dy="-6" font-size="12.2">-8</tspan></text>
<text x="1005" y="457" text-anchor="start" font-size="13" font-weight="normal" >10<tspan dy="-6" font-size="12.2">-6</tspan></text>
<text x="1005" y="440" text-anchor="start" font-size="13" font-weight="normal" >10<tspan dy="-6" font-size="12.2">-4</tspan></text>
<text transform="translate(46.6,229) rotate(-90)" text-anchor="middle" font-size="13">Frequency (Hz)</text>
<text transform="translate(46.4,466) rotate(-90)" text-anchor="middle" font-size="13">Freq (Hz)</text>
<text transform="translate(1062,228) rotate(-90)" text-anchor="middle" font-size="13">Ez (V<tspan dy="-6">2</tspan><tspan dy="6"> m</tspan><tspan dy="-6">-2</tspan><tspan dy="6"> Hz</tspan><tspan dy="-6">-1</tspan><tspan dy="6">)</tspan></text>
<text transform="translate(1055,466) rotate(-90)" text-anchor="middle" font-size="13">LFC Ez</text>
<text x="131.3" y="529.8" text-anchor="end" font-size="12.7" font-weight="normal" >18:00</text>
<text x="259.3" y="529.8" text-anchor="end" font-size="12.7" font-weight="normal" >19:00</text>
<text x="387.3" y="529.8" text-anchor="end" font-size="12.7" font-weight="normal" >20:00</text>
<text x="387.3" y="545.8" text-anchor="end" font-size="12.7" font-weight="normal" >4.227</text>
<text x="387.3" y="561.8" text-anchor="end" font-size="12.7" font-weight="normal" >7.105</text>
<text x="387.3" y="577.8" text-anchor="end" font-size="12.7" font-weight="normal" >16.479</text>
<text x="387.3" y="593.8" text-anchor="end" font-size="12.7" font-weight="normal" >39.788</text>
<text x="514.3" y="529.8" text-anchor="end" font-size="12.7" font-weight="normal" >21:00</text>
<text x="514.3" y="545.8" text-anchor="end" font-size="12.7" font-weight="normal" >4.651</text>
<text x="514.3" y="561.8" text-anchor="end" font-size="12.7" font-weight="normal" >5.620</text>
<text x="514.3" y="577.8" text-anchor="end" font-size="12.7" font-weight="normal" >16.268</text>
<text x="514.3" y="593.8" text-anchor="end" font-size="12.7" font-weight="normal" >23.545</text>
<text x="642.3" y="529.8" text-anchor="end" font-size="12.7" font-weight="normal" >22:00</text>
<text x="642.3" y="545.8" text-anchor="end" font-size="12.7" font-weight="normal" >4.491</text>
<text x="642.3" y="561.8" text-anchor="end" font-size="12.7" font-weight="normal" >4.636</text>
<text x="642.3" y="577.8" text-anchor="end" font-size="12.7" font-weight="normal" >16.209</text>
<text x="642.3" y="593.8" text-anchor="end" font-size="12.7" font-weight="normal" >7.418</text>
<text x="770.3" y="529.8" text-anchor="end" font-size="12.7" font-weight="normal" >23:00</text>
<text x="771.1" y="545.8" text-anchor="end" font-size="12.7" font-weight="normal" >Error</text>
<text x="771.1" y="561.8" text-anchor="end" font-size="12.7" font-weight="normal" >Error</text>
<text x="771.1" y="577.8" text-anchor="end" font-size="12.7" font-weight="normal" >Error</text>
<text x="771.1" y="593.8" text-anchor="end" font-size="12.7" font-weight="normal" >Error</text>
<text x="897.3" y="529.8" text-anchor="end" font-size="12.7" font-weight="normal" >00:00</text>
<text x="59.3" y="544.8" text-anchor="end" font-size="13">R<tspan dy="4" font-size="7.5">e</tspan></text>
<text x="59.3" y="561" text-anchor="end" font-size="13">L</text>
<text x="58.5" y="576.8" text-anchor="end" font-size="13">M<tspan dy="4" font-size="7.5">LT</tspan></text>
<text x="58.8" y="592.8" text-anchor="end" font-size="13">M<tspan dy="4" font-size="7.5">LAT</tspan></text>
</g>
</svg>
</body></html>
